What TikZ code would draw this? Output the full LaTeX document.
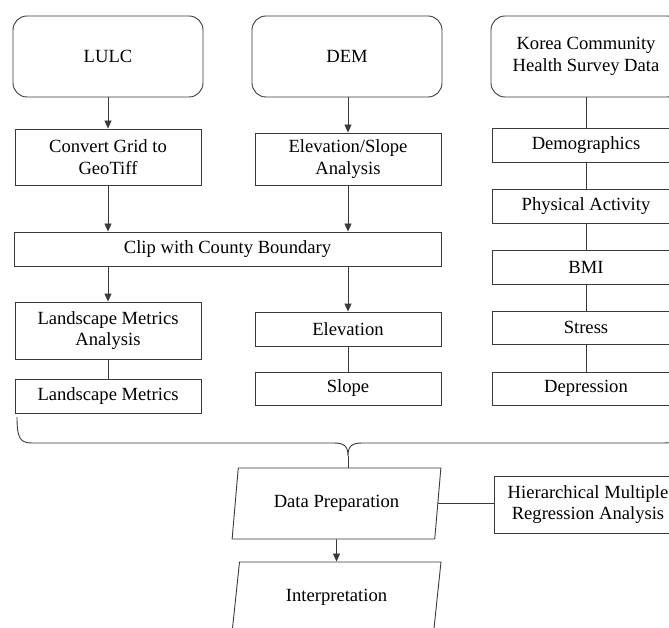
\documentclass[tikz,border=0pt]{standalone}
\usepackage{fontspec}
\setmainfont{Liberation Serif}
\usetikzlibrary{arrows.meta,shapes.geometric}
\definecolor{linec}{HTML}{3A3A3A}
\begin{document}
\begin{tikzpicture}[x=1pt,y=-1pt,
  box/.style={draw=linec, line width=0.9pt, align=center, inner sep=0pt,
              font=\fontsize{18.6}{21.5}\selectfont},
  rbox/.style={box, rounded corners=14pt},
  para/.style={box, trapezium, trapezium left angle=76.5, trapezium right angle=103.5,
               trapezium stretches=true, minimum width=209pt, minimum height=71pt},
  arr/.style={draw=linec, line width=0.9pt, -{Triangle[length=8pt,width=7pt]}},
  conn/.style={draw=linec, line width=0.9pt}]
\useasboundingbox (0,0) rectangle (669,628);
\clip (0,0) rectangle (669,628);
% top row
\node[rbox, minimum width=190pt, minimum height=81pt] (lulc) at (108,56.5) {LULC};
\node[rbox, minimum width=190pt, minimum height=81pt] (dem) at (347,56.5) {DEM};
\node[rbox, minimum width=190pt, minimum height=81pt] (korea) at (586,56.5) {Korea Community\\Health Survey Data};
% left and middle columns
\node[box, minimum width=186pt, minimum height=56pt] (conv) at (108,157) {Convert Grid to\\GeoTiff};
\node[box, minimum width=186pt, minimum height=52pt] (elsl) at (348,159) {Elevation/Slope\\Analysis};
\node[box, minimum width=427pt, minimum height=34pt] (clip) at (227.5,249) {Clip with County Boundary};
\node[box, minimum width=186pt, minimum height=57pt] (lma) at (108,330.5) {Landscape Metrics\\Analysis};
\node[box, minimum width=186pt, minimum height=34pt] (lm) at (108,396) {Landscape Metrics};
\node[box, minimum width=186pt, minimum height=34pt] (elev) at (348,329) {Elevation};
\node[box, minimum width=186pt, minimum height=33pt] (slope) at (348,388.5) {Slope};
% right column
\node[box, minimum width=188pt, minimum height=34pt] (demo) at (586,145) {Demographics};
\node[box, minimum width=188pt, minimum height=34pt] (pa) at (586,206) {Physical Activity};
\node[box, minimum width=188pt, minimum height=34pt] (bmi) at (586,267) {BMI};
\node[box, minimum width=188pt, minimum height=33pt] (stress) at (586,327.5) {Stress};
\node[box, minimum width=188pt, minimum height=33pt] (depr) at (586,388.5) {Depression};
% bottom
\node[para] (dp) at (336.5,503.5) {Data Preparation};
\node[para] (interp) at (336.5,597.5) {Interpretation};
\node[box, minimum width=188pt, minimum height=57pt] (hmra) at (588,504.5) {Hierarchical Multiple\\Regression Analysis};
% connectors
\draw[arr] (lulc) -- (conv);
\draw[arr] (dem.south -| elsl) -- (elsl);
\draw[arr] (conv) -- (conv |- clip.north);
\draw[arr] (elsl) -- (elsl |- clip.north);
\draw[arr] (clip.south -| lma) -- (lma);
\draw[arr] (clip.south -| elev) -- (elev);
\draw[conn] (lma) -- (lm);
\draw[conn] (elev) -- (slope);
\draw[conn] (korea) -- (demo);
\draw[conn] (demo) -- (pa);
\draw[conn] (pa) -- (bmi);
\draw[conn] (bmi) -- (stress);
\draw[conn] (stress) -- (depr);
\draw[arr] (dp) -- (interp);
\draw[conn] (dp.east) -- (dp.east -| hmra.west);
% brace
\coordinate (bl) at (17,417);
\coordinate (bm) at (348,456);
\coordinate (br) at (684,417);
\draw[conn] (bl) .. controls (17,438) and (20,443) .. (32,443) -- (334,443)
  .. controls (344,443) and (348,446) .. (bm)
  .. controls (348,446) and (352,443) .. (362,443) -- (664,443)
  .. controls (678,443) and (684,438) .. (br);
\draw[conn] (bm) -- (bm |- dp.north);
\end{tikzpicture}
\end{document}
